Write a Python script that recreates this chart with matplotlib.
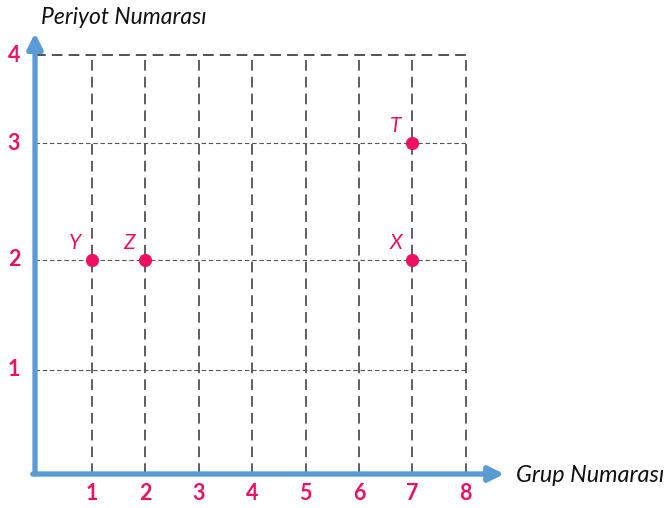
import numpy as np
import matplotlib.pyplot as plt

# data
groups = [1, 2, 3, 4, 5, 6, 7, 8]
periods = [1, 2, 3, 4]
element_names = ["Y", "Z", "X", "T"]
element_group = [1, 2, 7, 7]
element_period = [2, 2, 2, 3]

pink = "#ec1163"
blue = "#5b9bd5"

# the drawing's rows are not evenly spaced, so map periods to the row heights
y_knots = [-5, 0, 1, 2, 3, 4, 9]
h_knots = [508 - 974, 508 - 474, 508 - 370, 508 - 260, 508 - 143, 508 - 55, 508 + 445]


def fwd(y):
    return np.interp(y, y_knots, h_knots)


def inv(h):
    return np.interp(h, h_knots, y_knots)


fig = plt.figure(figsize=(6.67, 5.08), dpi=100)
ax = fig.add_axes([0, 0, 1, 1])
ax.set_yscale("function", functions=(fwd, inv))
ax.set_xlim(-0.723, 11.77)
ax.set_ylim(inv(0), inv(508))
ax.axis("off")

# grid
ax.vlines(groups, 0, 4, colors="#333333", linewidth=1.1, linestyles=(0, (7, 4)))
ax.hlines(periods[:-1], -0.07, 8, colors="#555555", linewidth=0.8, linestyles=(0, (4, 2.5)))
ax.hlines(periods[-1], -0.07, 8, colors="#222222", linewidth=1.1, linestyles=(0, (7, 4)))

# axes arrows
ax.annotate("", xy=(-0.067, inv(508 - 33)), xytext=(-0.067, 0),
            arrowprops=dict(arrowstyle="-|>,head_length=0.9,head_width=0.45",
                            color=blue, lw=3.8, shrinkA=0, shrinkB=0))
ax.annotate("", xy=(8.72, 0), xytext=(-0.11, 0),
            arrowprops=dict(arrowstyle="-|>,head_length=0.9,head_width=0.45",
                            color=blue, lw=3.8, shrinkA=0, shrinkB=0))

# tick labels
for g in groups:
    ax.text(g, inv(508 - 494), str(g), color=pink, fontsize=15.5, fontweight="bold",
            family="Lato", ha="center", va="center")
for p in periods:
    ax.text(-0.46, p, str(p), color=pink, fontsize=15.5, fontweight="bold",
            family="Lato", ha="center", va="center")

ax.text(0.05, inv(508 - 18), "Periyot Numarası", fontsize=16.5, style="italic",
        family="Lato", color="#111111", ha="left", va="center")
ax.text(8.95, inv(508 - 476), "Grup Numarası", fontsize=16.8, style="italic",
        family="Lato", color="#111111", ha="left", va="center")

# elements
ax.scatter(element_group, element_period, s=90, color=pink, zorder=5, linewidths=0)
for name, g, p in zip(element_names, element_group, element_period):
    ax.annotate(name, (g, p), xytext=(-12, 12), textcoords="offset points",
                color=pink, fontsize=15, style="italic", family="Lato",
                ha="center", va="center")

fig.savefig("out.png", dpi=100)
